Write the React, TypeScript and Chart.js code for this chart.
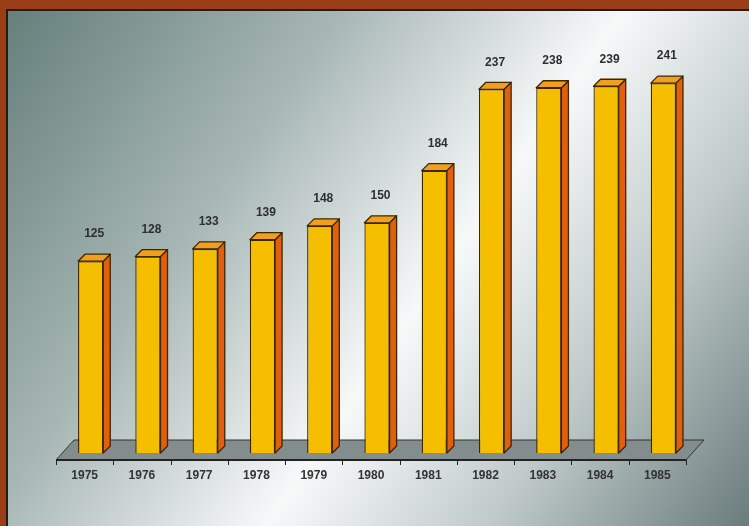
import React, { useEffect, useRef } from "react";
import { Chart, registerables } from "chart.js";

Chart.register(...registerables);

const years = ["1975", "1976", "1977", "1978", "1979", "1980", "1981", "1982", "1983", "1984", "1985"];
const values = [125, 128, 133, 139, 148, 150, 184, 237, 238, 239, 241];
const yMax = 260;

const DEPTH_X = 7;
const DEPTH_Y = 7;
const FONT = "bold 12px 'Liberation Sans', Arial, sans-serif";

const bgPlugin = {
  id: "bg3d",
  beforeDraw(chart: any) {
    const { ctx, width, height } = chart;
    ctx.save();
    ctx.fillStyle = "#9a3e18";
    ctx.fillRect(0, 0, width, height);
    ctx.fillStyle = "#2a1a12";
    ctx.fillRect(6, 9, width - 6, height - 9);
    const g = ctx.createLinearGradient(9, 12, width, height);
    g.addColorStop(0, "#66807c");
    g.addColorStop(0.3, "#a6b6b4");
    g.addColorStop(0.56, "#f7f9f9");
    g.addColorStop(0.76, "#c0caca");
    g.addColorStop(1, "#6a7c7c");
    ctx.fillStyle = g;
    ctx.fillRect(8, 11, width - 8, height - 11);
    ctx.restore();
  },
  beforeDatasetsDraw(chart: any) {
    const { ctx, chartArea } = chart;
    const { left, right, bottom } = chartArea;
    const fy = bottom + 7;
    const by = bottom - 13;
    const fl = left - 6;
    const fr = right - 6;
    ctx.save();
    ctx.beginPath();
    ctx.moveTo(fl, fy);
    ctx.lineTo(fr, fy);
    ctx.lineTo(fr + 18, by);
    ctx.lineTo(fl + 18, by);
    ctx.closePath();
    ctx.fillStyle = "#838d8d";
    ctx.fill();
    ctx.strokeStyle = "#333333";
    ctx.lineWidth = 1;
    ctx.stroke();
    ctx.beginPath();
    ctx.moveTo(fl, fy);
    ctx.lineTo(fr, fy);
    ctx.lineWidth = 2;
    ctx.strokeStyle = "#222222";
    ctx.stroke();
    const xs = chart.scales.x;
    const n = years.length;
    const step = (right - left) / n;
    ctx.lineWidth = 1;
    ctx.strokeStyle = "#222222";
    for (let i = 0; i <= n; i++) {
      const x = Math.round(fl + i * step) + 0.5;
      ctx.beginPath();
      ctx.moveTo(x, fy);
      ctx.lineTo(x, fy + 5);
      ctx.stroke();
    }
    ctx.fillStyle = "#333333";
    ctx.font = FONT;
    ctx.textAlign = "center";
    ctx.textBaseline = "middle";
    years.forEach((y, i) => {
      const cx = xs.getPixelForValue(i) - 6;
      ctx.fillText(y, cx, fy + 16);
    });
    ctx.restore();
  },
  afterDatasetsDraw(chart: any) {
    const { ctx } = chart;
    const meta = chart.getDatasetMeta(0);
    ctx.save();
    ctx.lineJoin = "round";
    ctx.strokeStyle = "#3d2600";
    ctx.lineWidth = 1.3;
    meta.data.forEach((bar: any, i: number) => {
      const { x, y, base, width } = bar.getProps(["x", "y", "base", "width"], true);
      const l = x - width / 2;
      const r = x + width / 2;
      ctx.beginPath();
      ctx.moveTo(r, y);
      ctx.lineTo(r + DEPTH_X, y - DEPTH_Y);
      ctx.lineTo(r + DEPTH_X, base - DEPTH_Y);
      ctx.lineTo(r, base);
      ctx.closePath();
      ctx.fillStyle = "#e0600e";
      ctx.fill();
      ctx.stroke();
      ctx.beginPath();
      ctx.moveTo(l, y);
      ctx.lineTo(l + DEPTH_X, y - DEPTH_Y);
      ctx.lineTo(r + DEPTH_X, y - DEPTH_Y);
      ctx.lineTo(r, y);
      ctx.closePath();
      ctx.fillStyle = "#f0a01e";
      ctx.fill();
      ctx.stroke();
      ctx.fillStyle = "#2e2e2e";
      ctx.font = FONT;
      ctx.textAlign = "center";
      ctx.textBaseline = "middle";
      ctx.fillText(String(values[i]), x + DEPTH_X / 2, y - DEPTH_Y - 20);
    });
    ctx.restore();
  },
};

export default function App() {
  const ref = useRef<HTMLCanvasElement | null>(null);
  useEffect(() => {
    document.body.style.margin = "0";
    const canvas = ref.current!;
    const chart = new Chart(canvas, {
      type: "bar",
      data: {
        labels: years,
        datasets: [
          {
            data: values,
            backgroundColor: "#f5bf00",
            borderColor: "#3d2600",
            borderWidth: 1.3,
            categoryPercentage: 1,
            barPercentage: 0.44,
          },
        ],
      },
      options: {
        animation: false,
        responsive: false,
        maintainAspectRatio: false,
        layout: { padding: { left: 62, right: 57, top: 54, bottom: 73 } },
        plugins: { legend: { display: false }, tooltip: { enabled: false } },
        scales: {
          x: { display: false },
          y: { display: false, min: 0, max: yMax },
        },
      },
      plugins: [bgPlugin],
    });
    return () => chart.destroy();
  }, []);
  return (
    <div style={{ width: 749, height: 526 }}>
      <canvas ref={ref} width={749} height={526} style={{ display: "block" }} />
    </div>
  );
}
